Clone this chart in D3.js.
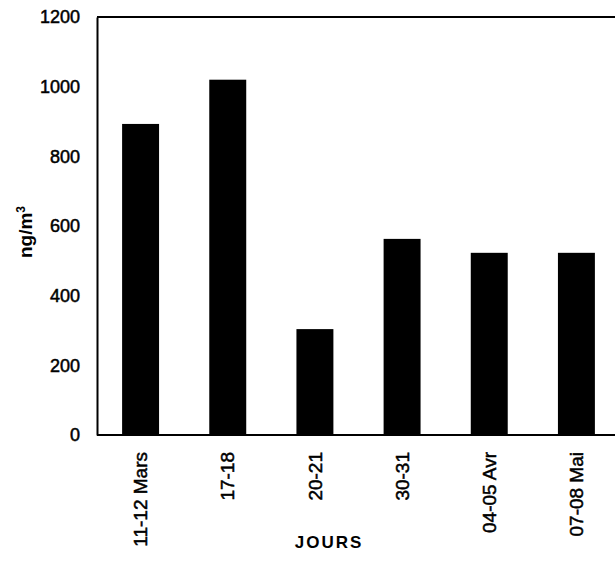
<!DOCTYPE html>
<html>
<head>
<meta charset="utf-8">
<script src="https://cdn.jsdelivr.net/npm/d3@7"></script>
<style>
  body { margin: 0; background: #fff; }
  text { font-family: "Liberation Sans", Arial, sans-serif; fill: #000; }
</style>
</head>
<body>
<svg width="615" height="563"></svg>
<script>
// data
var categories = ["11-12 Mars", "17-18", "20-21", "30-31", "04-05 Avr", "07-08 Mai"];
var values = [893, 1020, 304, 563, 523, 523];
var yTicks = [0, 200, 400, 600, 800, 1000, 1200];

var svg = d3.select("svg"),
    margin = { top: 17, left: 97, bottom: 128 },
    height = +svg.attr("height") - margin.bottom;

// scales
var x = d3.scaleBand()
    .domain(categories)
    .range([margin.left, 620])
    .paddingInner(0.576)
    .paddingOuter(0.288);
var y = d3.scaleLinear().domain([0, 1200]).range([height, margin.top]);

// bars
svg.selectAll(".bar")
    .data(values)
    .enter().append("rect")
    .attr("class", "bar")
    .attr("fill", "#000")
    .attr("x", function (d, i) { return x(categories[i]); })
    .attr("y", function (d) { return y(d); })
    .attr("width", x.bandwidth())
    .attr("height", function (d) { return y(0) - y(d); });

// Y axis
var gy = svg.append("g")
    .attr("transform", "translate(" + margin.left + ",0)")
    .call(d3.axisLeft(y).tickValues(yTicks).tickFormat(d3.format("d")).tickSize(0).tickPadding(17));
gy.select(".domain").attr("stroke", "#000").attr("stroke-width", 2);
gy.selectAll("text")
    .style("font-size", "18px")
    .attr("fill", "#000")
    .attr("stroke", "#000")
    .attr("stroke-width", 0.5);

// X axis
var gx = svg.append("g")
    .attr("transform", "translate(0," + y(0) + ")")
    .call(d3.axisBottom(x).tickSize(0));
gx.select(".domain").remove();
gx.selectAll("text")
    .style("font-size", "19px")
    .attr("fill", "#000")
    .attr("stroke", "#000")
    .attr("stroke-width", 0.5)
    .attr("transform", "rotate(-90)")
    .attr("x", -17)
    .attr("y", 0)
    .attr("dy", "0.35em")
    .style("text-anchor", "end");

// frame lines (bottom and top run to the edge)
svg.append("line")
    .attr("x1", margin.left).attr("x2", 615)
    .attr("y1", y(0)).attr("y2", y(0))
    .attr("stroke", "#000").attr("stroke-width", 2);
svg.append("line")
    .attr("x1", margin.left).attr("x2", 615)
    .attr("y1", y(1200)).attr("y2", y(1200))
    .attr("stroke", "#000").attr("stroke-width", 2);

// axis titles
var yl = svg.append("text")
    .attr("transform", "translate(32,232) rotate(-90)")
    .attr("text-anchor", "middle")
    .style("font-size", "19px")
    .style("font-weight", "bold")
    .text("ng/m");
yl.append("tspan")
    .attr("dy", "-0.55em")
    .style("font-size", "12px")
    .text("3");

svg.append("text")
    .attr("x", 329)
    .attr("y", 548)
    .attr("text-anchor", "middle")
    .style("font-size", "17px")
    .style("font-weight", "bold")
    .style("letter-spacing", "2px")
    .text("JOURS");
</script>
</body>
</html>
